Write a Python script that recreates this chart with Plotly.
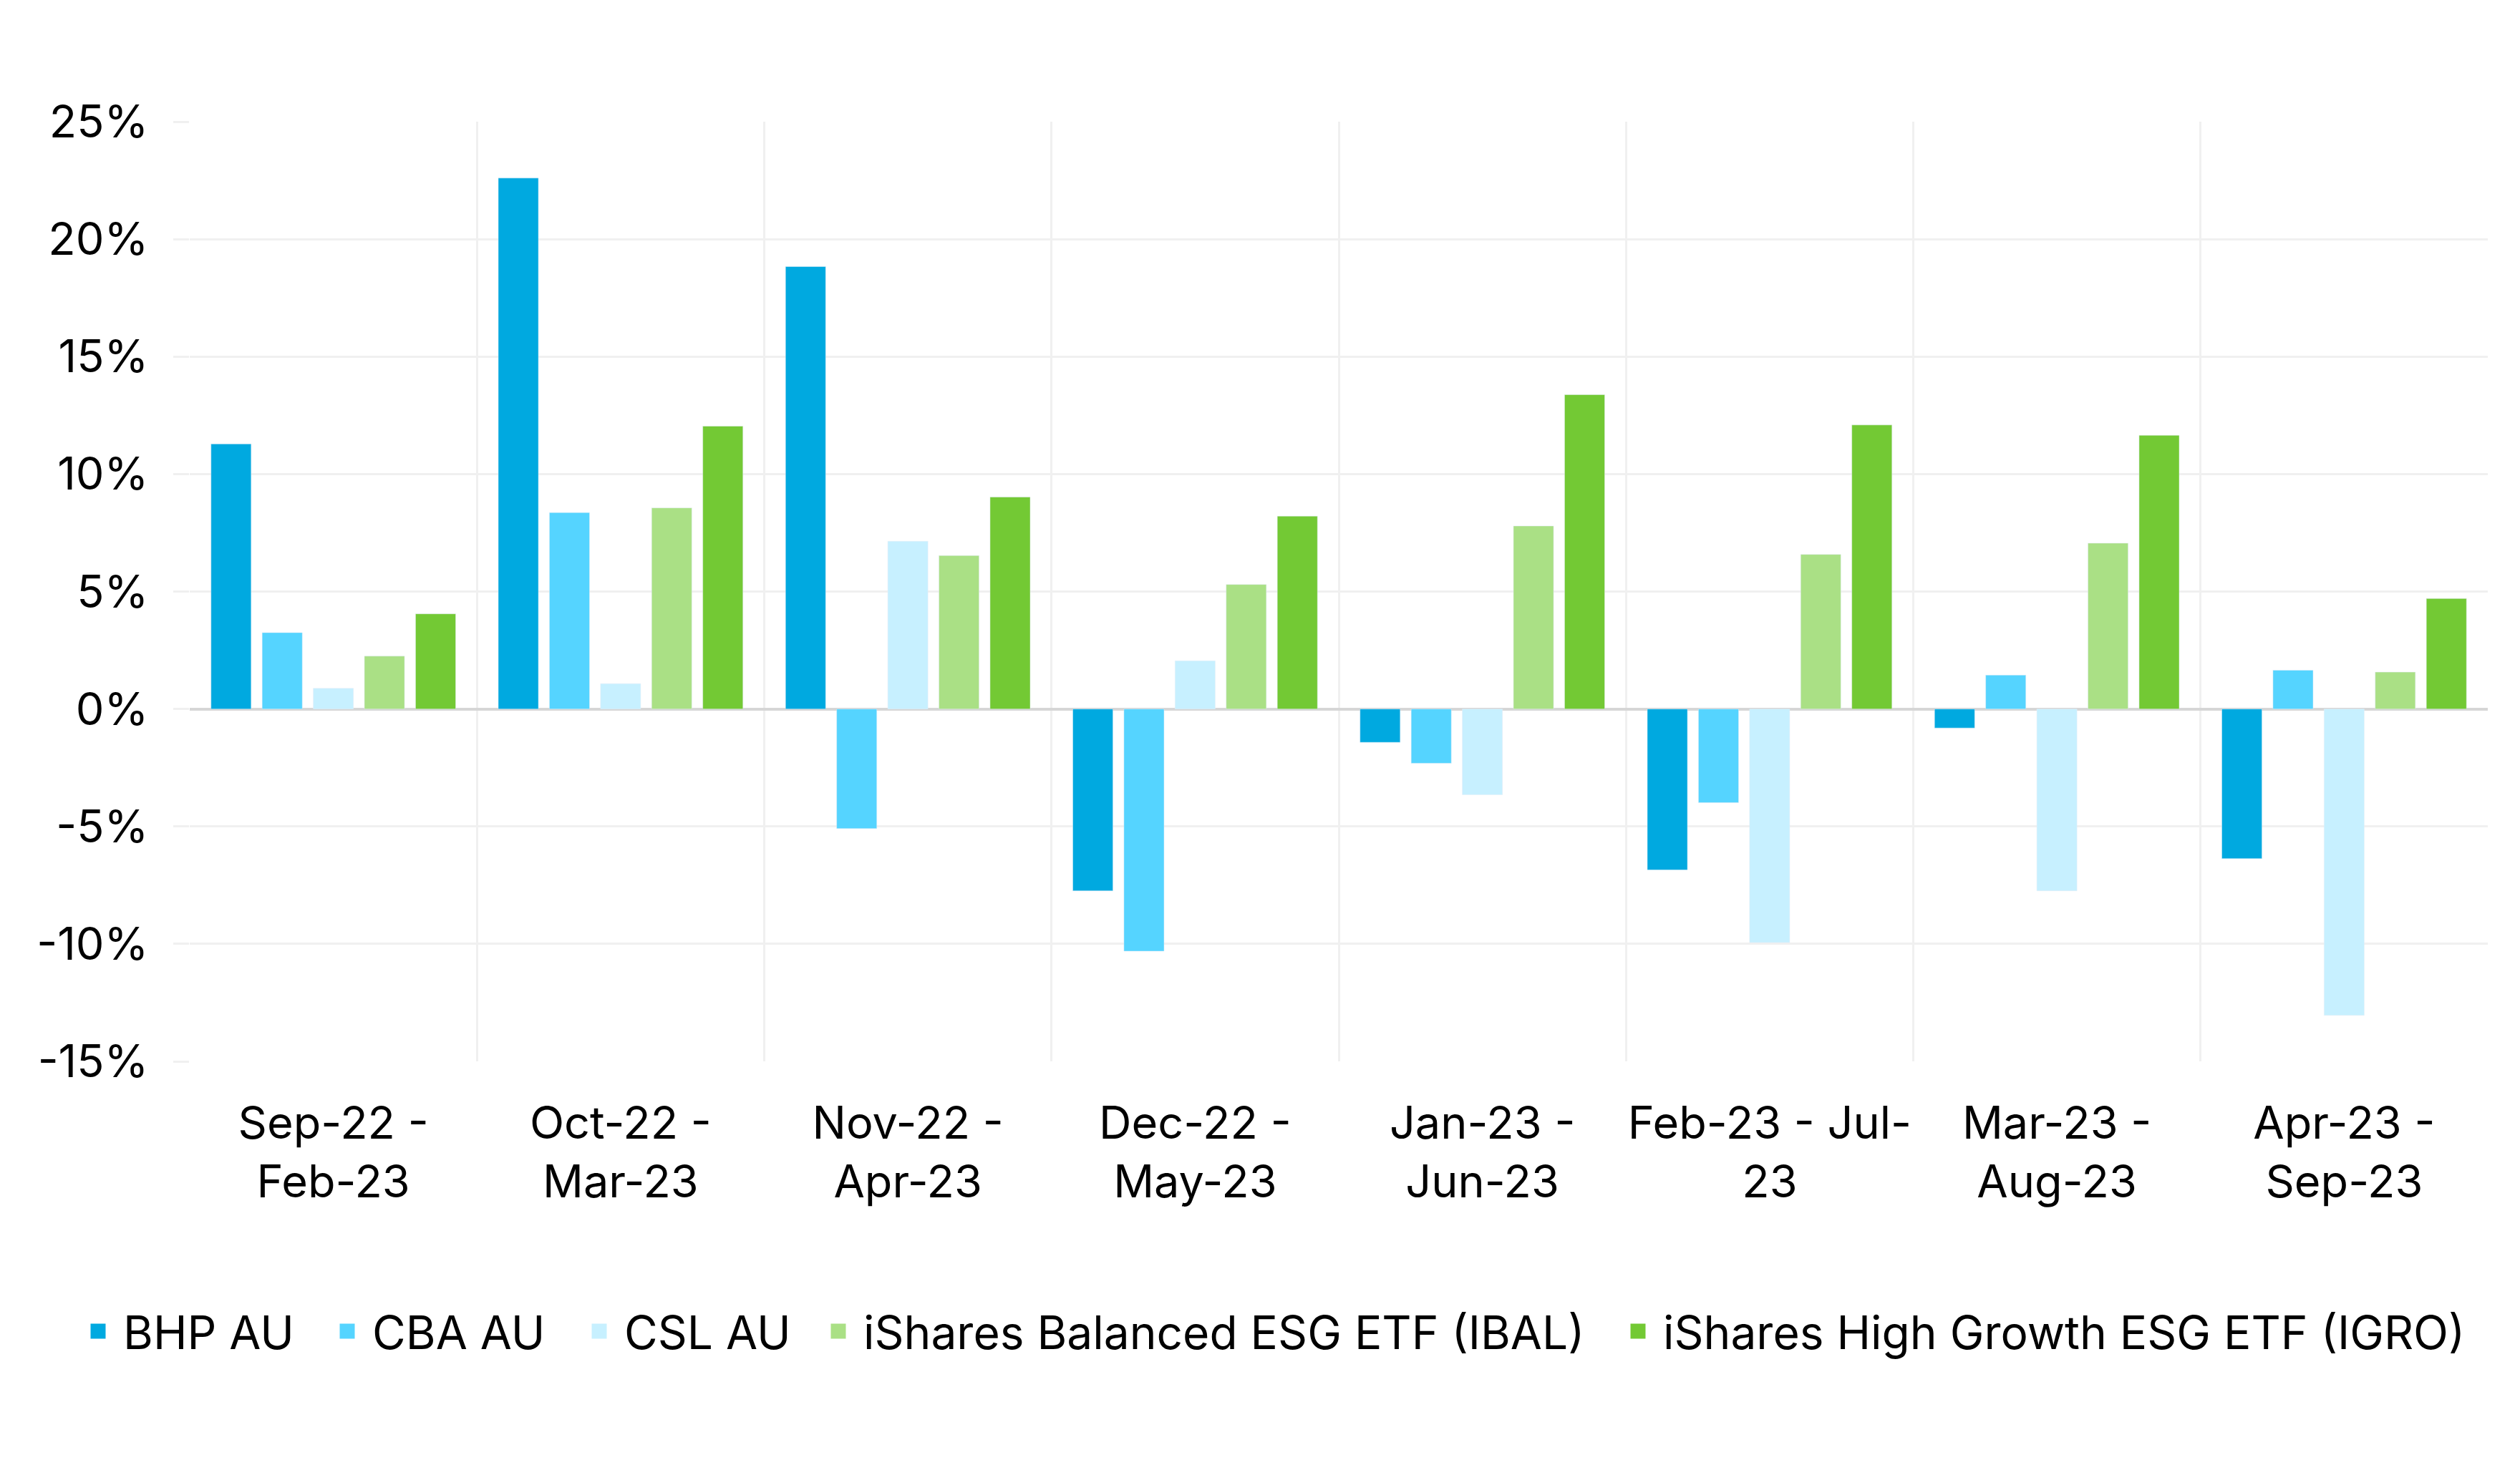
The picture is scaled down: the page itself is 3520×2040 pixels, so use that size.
import plotly.graph_objects as go

# periodos (eixo x)
periodos = ["Sep-22 -<br>Feb-23", "Oct-22 -<br>Mar-23", "Nov-22 -<br>Apr-23", "Dec-22 -<br>May-23",
            "Jan-23 -<br>Jun-23", "Feb-23 - Jul-<br>23", "Mar-23 -<br>Aug-23", "Apr-23 -<br>Sep-23"]

# retornos em %
bhp = [11.28, 22.6, 18.83, -7.74, -1.42, -6.85, -0.81, -6.37]
cba = [3.25, 8.36, -5.09, -10.31, -2.31, -3.99, 1.44, 1.65]
csl = [0.88, 1.08, 7.14, 2.05, -3.65, -9.94, -7.74, -13.04]
ibal = [2.25, 8.56, 6.53, 5.30, 7.79, 6.58, 7.06, 1.57]
igro = [4.05, 12.04, 9.02, 8.21, 13.38, 12.09, 11.65, 4.70]

y_ticks = [-15, -10, -5, 0, 5, 10, 15, 20, 25]
y_labels = ["-15%", "-10%", "-5%", "0%", "5%", "10%", "15%", "20%", "25%"]

nomes = ["BHP AU", "CBA AU", "CSL AU", "iShares Balanced ESG ETF (IBAL)", "iShares High Growth ESG ETF (IGRO)"]
cores = ["#00A9E0", "#55D4FF", "#C7F0FF", "#AAE085", "#73C934"]
series = [bhp, cba, csl, ibal, igro]

fonte = "Inter"

# posicao (px) do centro do quadrado de cada item da legenda
legenda_px = [134, 482, 834, 1168, 2285]
legendas = ["legend", "legend2", "legend3", "legend4", "legend5"]

fig = go.Figure()

# barras, uma por serie (legenda feita com marcadores quadrados maiores)
for nome, cor, valores, leg in zip(nomes, cores, series, legendas):
    fig.add_trace(go.Bar(name=nome, x=periodos, y=valores, marker_color=cor,
                         legendgroup=nome, showlegend=False))
    fig.add_trace(go.Scatter(name=nome, x=[None], y=[None], mode="markers",
                             marker=dict(symbol="square", size=16, color=cor, line=dict(width=5, color=cor)),
                             legendgroup=nome, showlegend=True, legend=leg))

fig.update_layout(
    width=3520, height=2040, autosize=False,
    margin=dict(l=257, r=53, t=162, b=565),
    plot_bgcolor="white", paper_bgcolor="white",
    font=dict(family=fonte, size=64, color="black"),
    barmode="group", bargap=0.11, bargroupgap=0.215,
)

# uma legenda por item, para acertar o espacamento
for leg, px in zip(legendas, legenda_px):
    fig.update_layout({leg: dict(
        orientation="h",
        xref="container", x=(px - 40) / 3520, xanchor="left",
        yref="container", y=0.092, yanchor="middle",
        font=dict(size=64),
        itemwidth=60,
        bgcolor="rgba(0,0,0,0)",
    )})

fig.update_xaxes(
    range=[-0.5, 7.5],
    tickson="boundaries", ticks="",
    showgrid=True, gridcolor="#F0F0F0", gridwidth=3,
    showline=False,
    tickangle=0, automargin=False,
    tickfont=dict(size=63),
    ticklabelstandoff=44,
)

fig.update_yaxes(
    range=[-15, 25],
    tickvals=y_ticks, ticktext=y_labels,
    showgrid=True, gridcolor="#F0F0F0", gridwidth=3,
    ticks="outside", ticklen=22, tickcolor="#F0F0F0", tickwidth=3,
    zeroline=True, zerolinecolor="#D6D6D6", zerolinewidth=4,
    showline=False, automargin=False,
    tickfont=dict(size=63),
    ticklabelstandoff=22,
)

fig.write_html("out.html")
